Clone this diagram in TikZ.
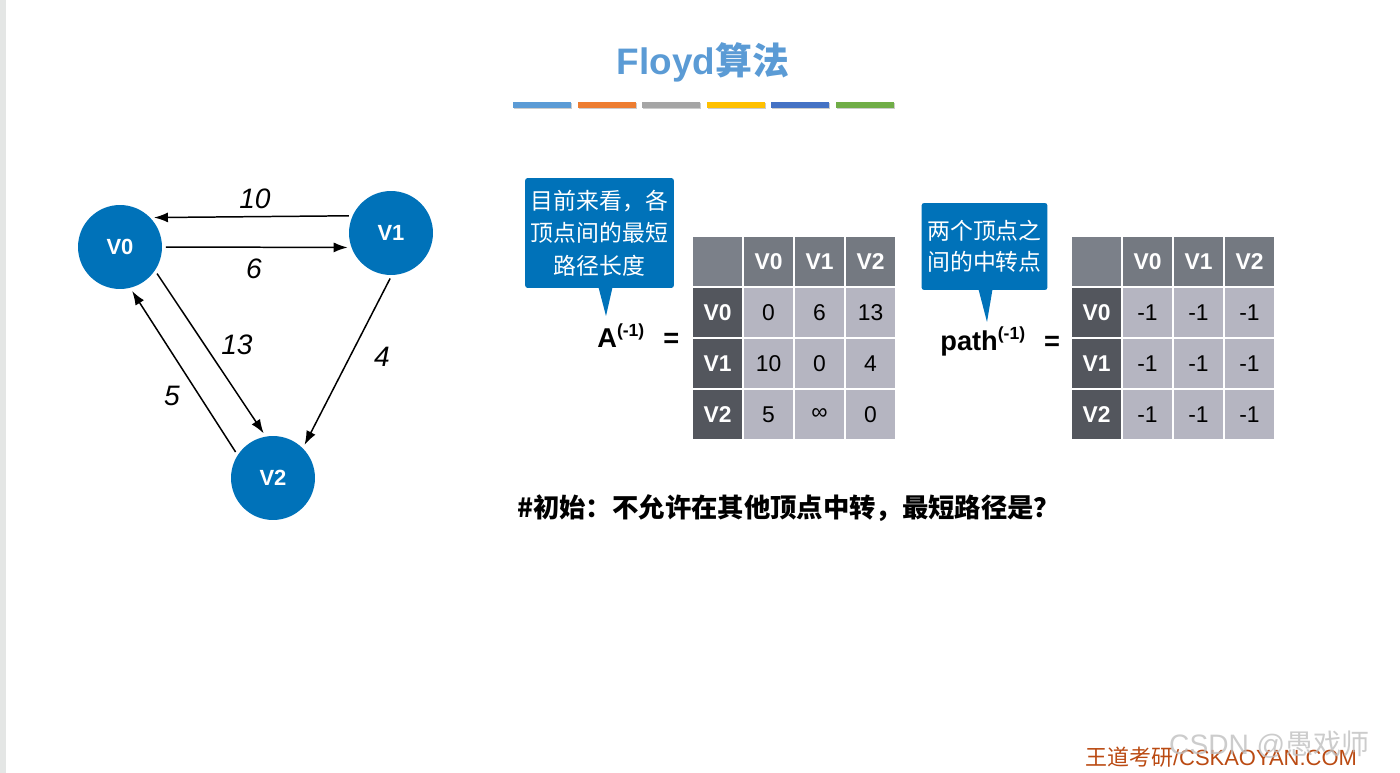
\documentclass[tikz,border=0pt]{standalone}
\usepackage{fontspec}
\setmainfont{Liberation Sans}
\newfontfamily\cjk{Noto Sans CJK SC}
\usetikzlibrary{arrows.meta}
\definecolor{nodeblue}{RGB}{0,114,185}
\definecolor{titleblue}{RGB}{91,155,213}
\definecolor{barorange}{RGB}{237,125,49}
\definecolor{bargray}{RGB}{165,165,165}
\definecolor{baryellow}{RGB}{255,192,0}
\definecolor{bardarkblue}{RGB}{68,114,196}
\definecolor{bargreen}{RGB}{112,173,71}
\definecolor{cornergray}{RGB}{123,128,137}
\definecolor{headgray}{RGB}{116,121,129}
\definecolor{rowgray}{RGB}{83,86,93}
\definecolor{datagray}{RGB}{181,181,193}
\definecolor{stripgray}{RGB}{228,230,229}
\definecolor{brand}{RGB}{186,74,18}
\begin{document}
\begin{tikzpicture}[x=0.02cm,y=-0.02cm,
			vertex/.style={circle,fill=nodeblue,minimum size=1.68cm,inner sep=0pt,
				text=white,font=\bfseries\fontsize{12.5}{14}\selectfont},
			edge/.style={-{Latex[length=2.8mm,width=2mm]},line width=0.85pt,
				shorten >=2pt,shorten <=2pt},
			weight/.style={font=\itshape\fontsize{16}{18}\selectfont},
			tip/.style={fill=nodeblue,rounded corners=1.5pt,text=white,align=center},
			cell/.style={minimum size=1.02cm,inner sep=0pt,draw=white,line width=0.7pt,
				font=\fontsize{13}{15}\selectfont},
			head/.style={text=white,font=\bfseries\fontsize{13}{15}\selectfont},
			eq/.style={anchor=base west,inner sep=0pt,font=\bfseries\fontsize{15.5}{18}\selectfont},]
\useasboundingbox (0,0) rectangle (1400,773);
\fill[stripgray] (0,0) rectangle (6,773);
% title
\node[text=titleblue,font=\bfseries\fontsize{21}{25}\selectfont] (title) at (703,62) {Floyd{\cjk 算法}};
\foreach \c [count=\i from 0] in {titleblue,barorange,bargray,baryellow,bardarkblue,bargreen}{
	\fill[black!20] (514+64.6*\i,103) rectangle ++(58,6);
	\fill[\c] (513+64.6*\i,102) rectangle ++(58,6);
}
% graph
\node[vertex] (V0) at (120,247) {V0};
\node[vertex] (V1) at (391,233) {V1};
\node[vertex] (V2) at (273,478) {V2};
\draw[edge] (V1.156) -- (V0.44);
\draw[edge] (V0.0) -- (V1.200);
\draw[edge] (V0.-34) -- (V2.100);
\draw[edge] (V2.147) -- (V0.-76);
\draw[edge] (V1.-89) -- (V2.45);
\node[weight] (w10) at (255,199) {10};
\node[weight] (w6) at (254,269) {6};
\node[weight] (w13) at (237,345) {13};
\node[weight] (w5) at (172,396) {5};
\node[weight] (w4) at (382,357) {4};
% callouts
\node[tip,minimum width=2.86cm,minimum height=2.2cm,font=\cjk\fontsize{13}{18.4}\selectfont]
	(tipA) at (599.5,233) {目前来看，各\\顶点间的最短\\路径长度};
\coordinate (ptrA) at (606,316);
\fill[nodeblue] (tipA.south) ++(-1,-1) -- ++(14,0) -- (ptrA) -- cycle;
\node[tip,minimum width=2.5cm,minimum height=1.74cm,font=\cjk\fontsize{13}{17.6}\selectfont]
	(tipP) at (984.5,246.5) {两个顶点之\\间的中转点};
\coordinate (ptrP) at (987,322);
\fill[nodeblue] (tipP.south) ++(-6,-1) -- ++(14,0) -- (ptrP) -- cycle;
\node[eq] (eqA) at (597,348) {A\raisebox{0.42em}{\fontsize{10}{10}\selectfont(-1)}\hspace{0.7em}=};
\node[eq] (eqP) at (940,351) {path\raisebox{0.42em}{\fontsize{10}{10}\selectfont(-1)}\hspace{0.7em}=};
% tables
\foreach \t/\ox in {A/692,P/1071}{
	\node[cell,fill=cornergray] (\t-corner) at (\ox+25.5,261.5) {};
	\foreach \k in {0,1,2}{
		\node[cell,head,fill=headgray] (\t-h\k) at (\ox+76.5+51*\k,261.5) {V\k};
		\node[cell,head,fill=rowgray] (\t-r\k) at (\ox+25.5,312.5+51*\k) {V\k};
	}
}
\foreach \i/\j/\v in {0/0/0,0/1/6,0/2/13,1/0/10,1/1/0,1/2/4,2/0/5,2/1/∞,2/2/0}
	\node[cell,fill=datagray] (A-\i\j) at (768.5+51*\j,312.5+51*\i) {\v};
\foreach \i in {0,1,2}
	\foreach \j in {0,1,2}
		\node[cell,fill=datagray] (P-\i\j) at (1147.5+51*\j,312.5+51*\i) {-1};
% question
\node[anchor=west,font=\cjk\bfseries\fontsize{15}{18}\selectfont] (ask) at (511,508)
	{\#初始：不允许在其他顶点中转，最短路径是？};
% footer
\node[anchor=west,text=brand,font=\fontsize{12.5}{15}\selectfont] (brand) at (1079,757)
	{{\cjk 王道考研}/CSKAOYAN.COM};
\node[anchor=west,text=black!25,opacity=0.8,font=\fontsize{16}{18}\selectfont] (mark) at (1163,745)
	{CSDN @{\cjk 愚戏师}};
\end{tikzpicture}
\end{document}
